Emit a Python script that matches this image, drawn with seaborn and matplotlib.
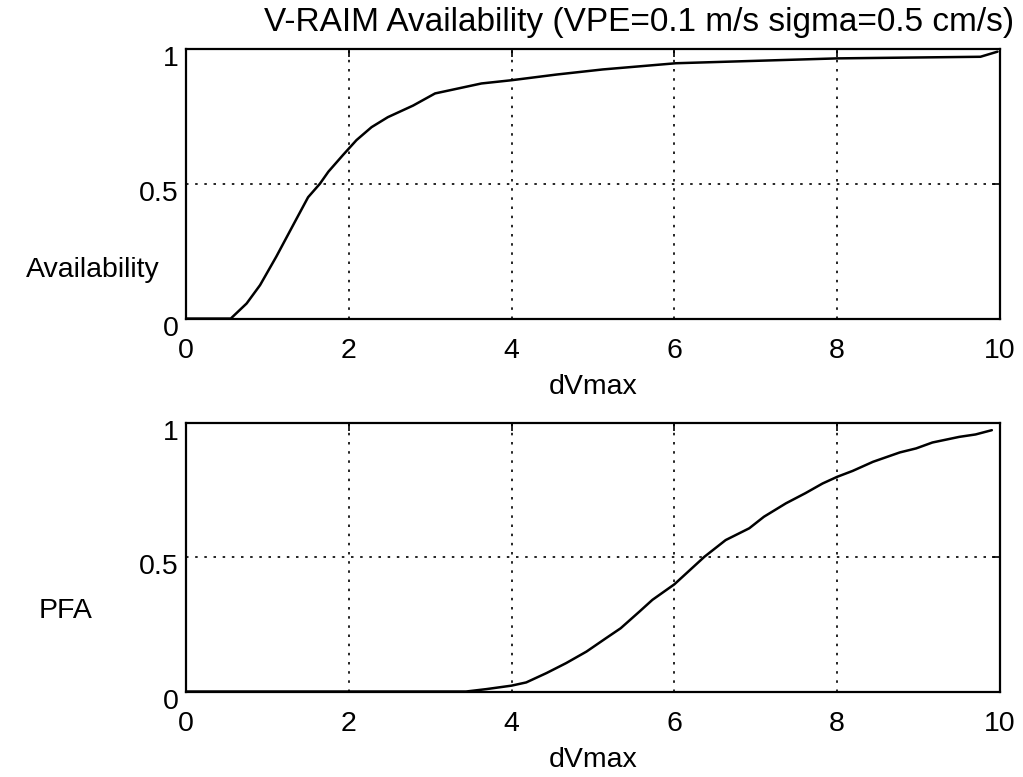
import seaborn as sns
import pandas as pd
from matplotlib import pyplot as plt
from matplotlib.transforms import ScaledTranslation

# values
avail_x = [0.0, 0.55, 0.745, 0.91, 1.11, 1.34, 1.50, 1.645, 1.75, 1.93, 2.095, 2.28, 2.48,
           2.79, 3.06, 3.63, 4.0, 4.55, 5.12, 6.02, 8.0, 9.76, 9.97]
avail_y = [0.0, 0.0, 0.056, 0.124, 0.23, 0.36, 0.45, 0.50, 0.545, 0.607, 0.662, 0.71, 0.747,
           0.79, 0.835, 0.872, 0.884, 0.905, 0.924, 0.947, 0.965, 0.971, 0.99]

pfa_x = [0.0, 3.44, 3.69, 4.0, 4.18, 4.43, 4.67, 4.92, 5.16, 5.34, 5.57, 5.73, 6.0, 6.37,
         6.63, 6.92, 7.1, 7.37, 7.61, 7.82, 8.0, 8.19, 8.44, 8.77, 8.97, 9.17, 9.5, 9.7, 9.9]
pfa_y = [0.0, 0.0, 0.009, 0.022, 0.034, 0.069, 0.106, 0.149, 0.199, 0.236, 0.298, 0.342,
         0.40, 0.503, 0.565, 0.609, 0.652, 0.702, 0.74, 0.776, 0.801, 0.823, 0.857, 0.892,
         0.907, 0.929, 0.95, 0.959, 0.975]

xticks = [0, 2, 4, 6, 8, 10]
yticks = [0, 0.5, 1]
ytick_labels = ["0", "0.5", "1"]

title = "V-RAIM Availability (VPE=0.1 m/s sigma=0.5 cm/s)"


def style_axes(ax, ylabel, label_x, label_y):
    ax.set_xlim(0, 10)
    ax.set_ylim(0, 1)
    ax.set_xticks(xticks)
    ax.set_yticks(yticks)
    ax.set_yticklabels(ytick_labels)
    ax.grid(True, color="black", linestyle=(0, (1.5, 4)), linewidth=1.2)
    ax.tick_params(direction="in", length=6, width=1.2, labelsize=20.5, top=True, right=True,
                   colors="black")
    ax.tick_params(axis="x", pad=14)
    ax.tick_params(axis="y", pad=5)
    # matlab puts the y labels a bit low
    shift = ScaledTranslation(0, -7 / 100, fig.dpi_scale_trans)
    for lab in ax.get_yticklabels():
        lab.set_transform(lab.get_transform() + shift)
    for side in ax.spines.values():
        side.set_linewidth(1.6)
        side.set_color("black")
    ax.set_xlabel("dVmax", fontsize=20.5, labelpad=7, color="black")
    ax.set_ylabel("")
    ax.text(label_x, label_y, ylabel, transform=ax.transAxes, fontsize=20.5,
            ha="right", va="center", color="black")


sns.set_theme(style="white")
plt.rcParams['font.family'] = ['Liberation Sans', 'DejaVu Sans']

fig = plt.figure(figsize=(10.23, 7.77), dpi=100)
ax1 = fig.add_axes([0.1818, 0.590, 0.7957, 0.347])
ax2 = fig.add_axes([0.1818, 0.110, 0.7957, 0.345])

df_avail = pd.DataFrame({"dVmax": avail_x, "Availability": avail_y})
df_pfa = pd.DataFrame({"dVmax": pfa_x, "PFA": pfa_y})

sns.lineplot(data=df_avail, x="dVmax", y="Availability", ax=ax1, color="black", linewidth=1.8)
sns.lineplot(data=df_pfa, x="dVmax", y="PFA", ax=ax2, color="black", linewidth=1.8)

style_axes(ax1, "Availability", -0.032, 0.18)
style_axes(ax2, "PFA", -0.115, 0.30)

fig.text(639 / 1023, 1 - 22 / 777, title, fontsize=24, ha="center", va="center",
         color="black")

fig.savefig("out.png", dpi=100, facecolor="white")
